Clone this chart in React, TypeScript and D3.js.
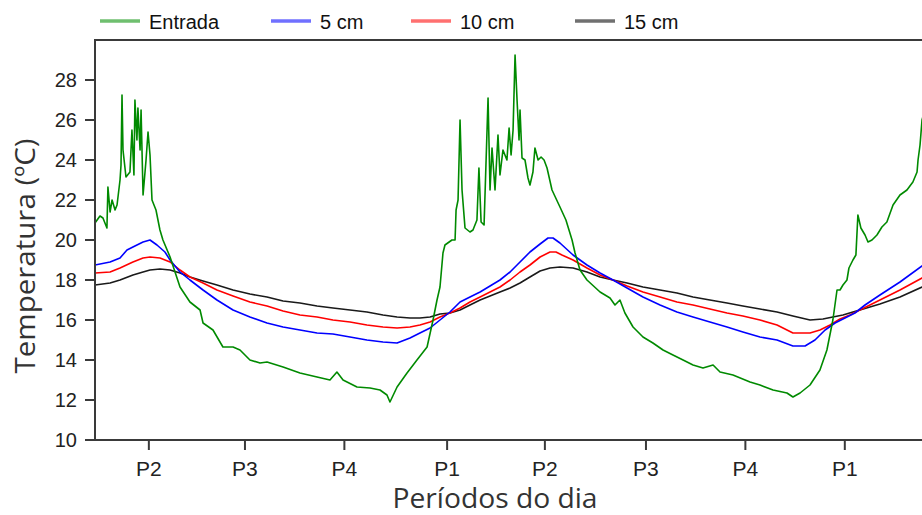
import React from "react";
import * as d3 from "d3";

// time in hours since start of record, temperature in ºC
const entrada: [number, number][] = [
  [0, 20.85], [0.3, 21.2], [0.48, 21.1], [0.72, 20.6], [0.78, 22.65], [0.91, 21.4], [1.03, 22.0],
  [1.21, 21.5], [1.33, 21.75], [1.51, 23.0], [1.57, 23.75], [1.63, 27.25], [1.69, 24.5], [1.87, 23.15],
  [2.11, 23.4], [2.23, 25.5], [2.35, 23.25], [2.41, 27.0], [2.53, 25.0], [2.59, 26.6], [2.72, 24.5],
  [2.78, 26.5], [2.9, 22.25], [3.08, 24.0], [3.2, 25.4], [3.32, 24.25], [3.44, 22.0], [3.68, 21.5],
  [3.92, 20.5], [4.1, 20.0], [4.53, 19.15], [5.13, 17.65], [5.73, 16.9], [6.34, 16.5], [6.52, 15.85],
  [7.12, 15.5], [7.72, 14.65], [8.33, 14.65], [8.75, 14.5], [9.35, 14.0], [9.96, 13.85], [10.38, 13.9],
  [11.35, 13.65], [12.37, 13.35], [13.4, 13.15], [14.18, 13.0], [14.6, 13.4], [14.97, 13.0],
  [15.81, 12.65], [16.6, 12.6], [17.2, 12.5], [17.62, 12.25], [17.8, 11.9], [18.23, 12.65],
  [18.83, 13.35], [19.43, 14.0], [20.04, 14.65], [20.4, 16.0], [20.64, 17.0], [20.82, 17.65],
  [21.0, 19.35], [21.12, 19.75], [21.54, 20.0], [21.73, 20.0], [21.79, 21.5], [21.91, 22.0],
  [22.03, 26.0], [22.15, 22.5], [22.33, 20.6], [22.63, 20.4], [22.81, 20.5], [23.05, 21.0],
  [23.17, 23.6], [23.3, 20.9], [23.48, 20.75], [23.72, 27.1], [23.84, 22.5], [23.96, 24.6],
  [24.14, 22.5], [24.32, 25.25], [24.44, 23.25], [24.62, 24.5], [24.86, 24.0], [24.99, 25.6],
  [25.11, 24.25], [25.23, 25.5], [25.35, 29.25], [25.47, 27.0], [25.59, 25.0], [25.65, 26.5],
  [25.77, 24.1], [25.95, 24.0], [26.13, 23.1], [26.25, 22.75], [26.43, 23.4], [26.55, 24.6],
  [26.74, 24.0], [26.92, 24.15], [27.1, 24.0], [27.28, 23.6], [27.58, 22.5], [28.06, 21.65],
  [28.42, 21.0], [28.79, 20.0], [28.97, 19.35], [29.27, 18.5], [29.69, 18.0], [30.48, 17.4],
  [31.08, 17.1], [31.38, 16.75], [31.68, 17.0], [31.98, 16.35], [32.47, 15.65], [33.07, 15.15],
  [33.67, 14.85], [34.28, 14.5], [34.88, 14.25], [35.49, 14.0], [36.09, 13.75], [36.69, 13.6],
  [37.3, 13.75], [37.72, 13.4], [38.5, 13.25], [39.53, 12.9], [40.13, 12.75], [40.92, 12.5],
  [41.76, 12.35], [42.12, 12.15], [42.55, 12.35], [43.15, 12.75], [43.75, 13.5], [44.17, 14.5],
  [44.53, 16.0], [44.78, 17.5], [44.96, 17.5], [45.14, 17.75], [45.38, 18.0], [45.5, 18.6],
  [45.74, 19.0], [45.92, 19.25], [46.04, 21.25], [46.22, 20.6], [46.47, 20.25], [46.65, 19.9],
  [46.89, 20.0], [47.19, 20.25], [47.49, 20.65], [47.79, 20.9], [48.16, 21.75], [48.58, 22.25],
  [49.0, 22.5], [49.36, 22.9], [49.61, 23.4], [49.67, 24.0], [49.79, 24.75], [49.91, 26.0], [50.15, 26.75],
];

const cm5: [number, number][] = [
  [0, 18.75], [0.91, 18.9], [1.51, 19.1], [1.93, 19.5], [2.41, 19.7], [2.9, 19.9], [3.32, 20.0],
  [3.74, 19.75], [4.22, 19.4], [4.53, 19.0], [5.13, 18.4], [5.73, 18.0], [6.52, 17.5], [7.36, 17.0],
  [8.33, 16.5], [9.35, 16.15], [10.38, 15.85], [11.35, 15.65], [12.37, 15.5], [13.4, 15.35],
  [14.36, 15.3], [15.39, 15.15], [16.41, 15.0], [17.38, 14.9], [18.23, 14.85], [19.01, 15.1],
  [19.61, 15.35], [20.22, 15.6], [20.82, 16.0], [21.42, 16.4], [22.03, 16.9], [22.63, 17.15],
  [23.24, 17.4], [23.84, 17.7], [24.44, 18.0], [25.05, 18.4], [25.65, 18.9], [26.25, 19.4],
  [26.86, 19.8], [27.34, 20.1], [27.64, 20.1], [28.06, 19.85], [28.85, 19.25], [29.69, 18.75],
  [30.48, 18.35], [31.26, 18.0], [32.11, 17.6], [33.07, 17.15], [34.1, 16.75], [35.12, 16.4],
  [36.09, 16.15], [37.11, 15.9], [38.14, 15.65], [39.1, 15.4], [40.13, 15.15], [41.16, 15.0],
  [42.12, 14.7], [42.85, 14.7], [43.45, 15.0], [44.06, 15.5], [44.66, 15.85], [45.26, 16.1],
  [45.86, 16.35], [46.47, 16.75], [47.37, 17.25], [48.58, 17.9], [49.91, 18.7], [50.15, 18.85],
];

const cm10: [number, number][] = [
  [0, 18.35], [0.91, 18.4], [1.51, 18.6], [2.29, 18.9], [2.9, 19.1], [3.32, 19.15], [3.92, 19.1],
  [4.53, 18.9], [5.13, 18.5], [5.73, 18.15], [6.52, 17.85], [7.36, 17.5], [8.33, 17.2], [9.35, 16.9],
  [10.38, 16.7], [11.35, 16.45], [12.37, 16.25], [13.4, 16.15], [14.36, 16.0], [15.39, 15.9],
  [16.41, 15.75], [17.38, 15.65], [18.23, 15.6], [19.01, 15.65], [19.61, 15.75], [20.22, 15.9],
  [20.82, 16.15], [21.42, 16.35], [22.03, 16.6], [22.63, 16.9], [23.24, 17.15], [23.84, 17.4],
  [24.44, 17.65], [25.05, 18.0], [25.65, 18.4], [26.25, 18.75], [26.86, 19.15], [27.46, 19.4],
  [27.82, 19.4], [28.18, 19.25], [28.85, 19.0], [29.69, 18.6], [30.48, 18.25], [31.26, 18.0],
  [32.11, 17.7], [33.07, 17.4], [34.1, 17.15], [35.12, 16.9], [36.09, 16.75], [37.11, 16.55],
  [38.14, 16.35], [39.1, 16.2], [40.13, 16.0], [41.16, 15.75], [42.12, 15.35], [43.15, 15.35],
  [43.75, 15.5], [44.36, 15.75], [44.96, 16.05], [45.56, 16.25], [46.16, 16.5], [47.37, 17.0],
  [48.58, 17.5], [49.91, 18.1], [50.15, 18.2],
];

const cm15: [number, number][] = [
  [0, 17.75], [0.91, 17.85], [1.51, 18.0], [2.29, 18.25], [2.9, 18.4], [3.32, 18.5], [3.92, 18.55],
  [4.53, 18.5], [5.13, 18.35], [5.73, 18.15], [6.52, 17.95], [7.36, 17.75], [8.33, 17.5], [9.35, 17.3],
  [10.38, 17.15], [11.35, 16.95], [12.37, 16.85], [13.4, 16.7], [14.36, 16.6], [15.39, 16.5],
  [16.41, 16.4], [17.38, 16.25], [18.23, 16.15], [19.01, 16.1], [19.61, 16.1], [20.22, 16.15],
  [20.82, 16.3], [21.42, 16.35], [22.03, 16.5], [22.63, 16.75], [23.24, 17.0], [23.84, 17.2],
  [24.44, 17.4], [25.05, 17.6], [25.65, 17.85], [26.25, 18.15], [26.86, 18.45], [27.46, 18.6],
  [28.06, 18.65], [28.85, 18.6], [29.69, 18.4], [30.48, 18.15], [31.26, 18.0], [32.11, 17.85],
  [33.07, 17.65], [34.1, 17.5], [35.12, 17.35], [36.09, 17.15], [37.11, 17.0], [38.14, 16.85],
  [39.1, 16.7], [40.13, 16.55], [41.16, 16.4], [42.12, 16.2], [43.15, 16.0], [43.93, 16.05],
  [44.53, 16.15], [45.14, 16.25], [45.74, 16.4], [46.16, 16.5], [47.37, 16.8], [48.58, 17.15],
  [49.91, 17.65], [50.15, 17.75],
];

const yTicks = [10, 12, 14, 16, 18, 20, 22, 24, 26, 28];
const xTickPos = [3.25, 9.05, 15.05, 21.25, 27.15, 33.25, 39.25, 45.25];
const xTickLabels = ["P2", "P3", "P4", "P1", "P2", "P3", "P4", "P1"];
const seriesNames = ["Entrada", "5 cm", "10 cm", "15 cm"];
const seriesColors = ["#008a00", "#0000ff", "#ff0000", "#1a1a1a"];
const legendColors = ["#6fbf6f", "#7070ff", "#ff7070", "#707070"];

export default function App() {
  const W = 922, H = 515;
  const left = 95, top = 40, bottom = 440, right = 926;
  const x = d3.scaleLinear().domain([0, 50.15]).range([left, right]);
  const y = d3.scaleLinear().domain([10, 30]).range([bottom, top]);
  const line = d3.line<[number, number]>().x(d => x(d[0])).y(d => y(d[1]));
  const series = [entrada, cm5, cm10, cm15];
  const axisColor = "#3a3a3a";
  const tickFont = "'Liberation Sans', Arial, sans-serif";
  const titleFont = "'Open Sans', 'Noto Sans', sans-serif";

  const legendX = [100, 271, 411, 575];

  return (
    <svg width={W} height={H} style={{ position: "absolute", left: 0, top: 0, background: "#fff" }}>
      <defs>
        <clipPath id="plotclip">
          <rect x={left} y={top} width={W - left} height={bottom - top} />
        </clipPath>
      </defs>
      <rect x={0} y={0} width={W} height={H} fill="#fff" />
      {/* data lines (drawn back to front: 15 cm, 10 cm, 5 cm, entrada) */}
      <g clipPath="url(#plotclip)">
        {[3, 2, 1, 0].map(i => (
          <path key={i} d={line(series[i]) || ""} fill="none" stroke={seriesColors[i]}
            strokeWidth={1.6} strokeLinejoin="round" />
        ))}
      </g>
      {/* frame */}
      <line x1={left} y1={top} x2={W} y2={top} stroke={axisColor} strokeWidth={2} />
      <line x1={left} y1={top - 1} x2={left} y2={bottom + 1} stroke={axisColor} strokeWidth={2} />
      <line x1={left} y1={bottom} x2={W} y2={bottom} stroke={axisColor} strokeWidth={2} />
      {/* y ticks */}
      {yTicks.map(t => (
        <g key={t}>
          <line x1={left - 10} x2={left} y1={y(t)} y2={y(t)} stroke={axisColor} strokeWidth={2} />
          <text x={left - 18} y={y(t)} dy="0.36em" textAnchor="end" fontFamily={tickFont}
            fontSize={20} fill="#222">{t}</text>
        </g>
      ))}
      {/* x ticks */}
      {xTickPos.map((t, i) => (
        <g key={i}>
          <line x1={x(t)} x2={x(t)} y1={bottom} y2={bottom + 10} stroke={axisColor} strokeWidth={2} />
          <text x={x(t)} y={bottom + 36} textAnchor="middle" fontFamily={tickFont}
            fontSize={21} fill="#222">{xTickLabels[i]}</text>
        </g>
      ))}
      {/* axis titles */}
      <text x={495} y={508} textAnchor="middle" fontFamily={titleFont} fontSize={27} fill="#333"
        textLength={205} lengthAdjust="spacingAndGlyphs">
        Períodos do dia
      </text>
      <text transform="translate(35,256) rotate(-90)" textAnchor="middle" fontFamily={titleFont}
        fontSize={27} fill="#333" textLength={235} lengthAdjust="spacingAndGlyphs">
        Temperatura (ºC)
      </text>
      {/* legend */}
      {seriesNames.map((n, i) => (
        <g key={n}>
          <line x1={legendX[i]} x2={legendX[i] + 40} y1={21} y2={21} stroke={legendColors[i]} strokeWidth={3.5} />
          <text x={legendX[i] + 49} y={28.5} fontFamily={tickFont} fontSize={20} fill="#111">{n}</text>
        </g>
      ))}
    </svg>
  );
}
